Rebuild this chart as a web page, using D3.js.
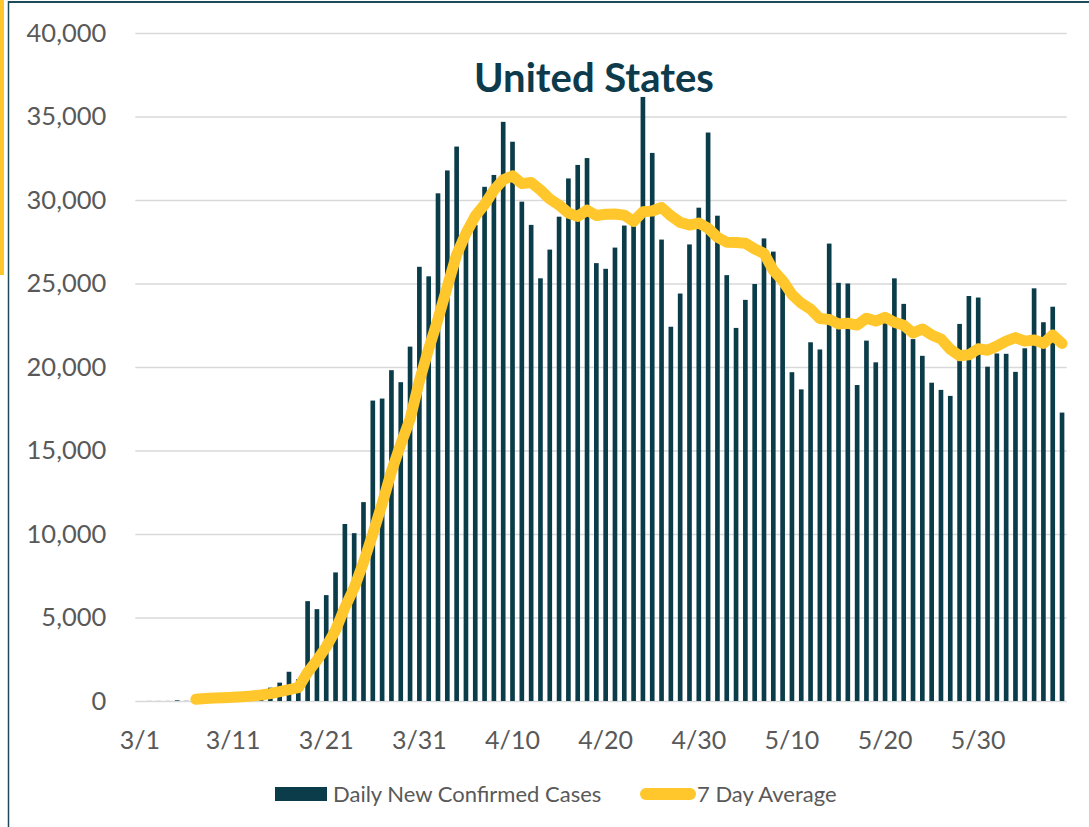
<!DOCTYPE html>
<html>
<head>
<meta charset="utf-8">
<script src="https://cdn.jsdelivr.net/npm/d3@7"></script>
<style>
  html, body { margin: 0; padding: 0; background: #fff; }
  svg { display: block; font-family: Lato, "Open Sans", sans-serif; }
</style>
</head>
<body>
<div id="chart"></div>
<script>
// Dates, one per bar (3/1 .. 6/8)
const dates = [
  "3/1","3/2","3/3","3/4","3/5","3/6","3/7","3/8","3/9","3/10",
  "3/11","3/12","3/13","3/14","3/15","3/16","3/17","3/18","3/19","3/20",
  "3/21","3/22","3/23","3/24","3/25","3/26","3/27","3/28","3/29","3/30",
  "3/31","4/1","4/2","4/3","4/4","4/5","4/6","4/7","4/8","4/9",
  "4/10","4/11","4/12","4/13","4/14","4/15","4/16","4/17","4/18","4/19",
  "4/20","4/21","4/22","4/23","4/24","4/25","4/26","4/27","4/28","4/29",
  "4/30","5/1","5/2","5/3","5/4","5/5","5/6","5/7","5/8","5/9",
  "5/10","5/11","5/12","5/13","5/14","5/15","5/16","5/17","5/18","5/19",
  "5/20","5/21","5/22","5/23","5/24","5/25","5/26","5/27","5/28","5/29",
  "5/30","5/31","6/1","6/2","6/3","6/4","6/5","6/6","6/7","6/8"
];

// Daily new confirmed cases
const dailyCases = [
  0, 5, 5, 5, 40, 10, 100, 120, 180, 250,
  300, 400, 450, 600, 800, 1100, 1750, 1300, 5980, 5500,
  6340, 7700, 10600, 10050, 11910, 17990, 18110, 19810, 19090, 21220,
  26000, 25430, 30400, 31770, 33200, 28000, 28500, 30790, 31500, 34680,
  33490, 29900, 28510, 25310, 27030, 29000, 31290, 32100, 32510, 26220,
  25880, 27150, 28470, 28700, 36170, 32820, 27630, 22410, 24400, 27340,
  29540, 34040, 29060, 25500, 22340, 24020, 24970, 27700, 26910, 24780,
  19690, 18660, 21480, 21050, 27390, 25040, 25000, 18920, 21580, 20280,
  22650, 25310, 23780, 21670, 20670, 19060, 18630, 18270, 22580, 24250,
  24160, 20020, 20810, 20790, 19710, 21120, 24710, 22680, 23610, 17270
];

// 7 day average (starts on 3/7)
const sevenDayAvg = [
  null, null, null, null, null, null, 100, 150, 180, 200,
  230, 260, 300, 360, 440, 560, 680, 800, 1710, 2430,
  3250, 4240, 5600, 6780, 8300, 10010, 11810, 13740, 15370, 16880,
  19160, 21090, 22870, 24820, 26730, 28000, 29040, 29730, 30590, 31210,
  31450, 30980, 31050, 30600, 30060, 29700, 29220, 29020, 29390, 29070,
  29150, 29160, 29090, 28720, 29300, 29340, 29550, 29050, 28660, 28500,
  28620, 28310, 27770, 27470, 27460, 27410, 27070, 26800, 25790, 25170,
  24340, 23820, 23460, 22900, 22850, 22580, 22620, 22510, 22920, 22750,
  22980, 22680, 22500, 22030, 22280, 21920, 21680, 21060, 20670, 20730,
  21090, 21000, 21250, 21550, 21760, 21550, 21620, 21410, 21920, 21410
];

const xTickLabels = ["3/1","3/11","3/21","3/31","4/10","4/20","4/30","5/10","5/20","5/30"];
const yTicks = [0, 5000, 10000, 15000, 20000, 25000, 30000, 35000, 40000];

const width = 1089;
const height = 827;
const plot = { left: 135.3, right: 1066.7, top: 33, bottom: 701 };

const barColor = "#0b3c4a";
const lineColor = "#ffc72c";
const textColor = "#595959";

const svg = d3.select("#chart").append("svg")
  .attr("width", width)
  .attr("height", height);

svg.append("rect").attr("width", width).attr("height", height).attr("fill", "#fff");

// Frame: yellow strip and teal border
svg.append("rect").attr("x", 0).attr("y", 0).attr("width", 4).attr("height", 275).attr("fill", lineColor);
svg.append("line").attr("x1", 8.5).attr("x2", 8.5).attr("y1", 1).attr("y2", height)
  .attr("stroke", "#1d4b59").attr("stroke-width", 1.5);
svg.append("line").attr("x1", 8).attr("x2", width).attr("y1", 2).attr("y2", 2)
  .attr("stroke", "#1d4b59").attr("stroke-width", 2);

const x = d3.scaleBand()
  .domain(dates)
  .range([plot.left, plot.right])
  .paddingInner(0.5)
  .paddingOuter(0.25);

const y = d3.scaleLinear()
  .domain([0, 40000])
  .range([plot.bottom, plot.top]);

// Gridlines + y labels
const yAxis = d3.axisLeft(y)
  .tickValues(yTicks)
  .tickSize(-(plot.right - plot.left))
  .tickPadding(29)
  .tickFormat(d3.format(","));

const yg = svg.append("g")
  .attr("transform", `translate(${plot.left},0)`)
  .call(yAxis);
yg.select(".domain").remove();
yg.selectAll(".tick line").attr("stroke", "#d9d9d9").attr("stroke-width", 1.5);
yg.selectAll(".tick text")
  .attr("fill", textColor)
  .style("font-size", "25.5px")
  .style("font-family", "Lato, sans-serif");

// Bars
svg.append("g").selectAll("rect")
  .data(dates)
  .enter().append("rect")
  .attr("x", d => x(d))
  .attr("width", x.bandwidth())
  .attr("y", (d, i) => y(dailyCases[i]))
  .attr("height", (d, i) => y(0) - y(dailyCases[i]))
  .attr("fill", barColor);

// X labels
const xAxis = d3.axisBottom(x)
  .tickValues(xTickLabels)
  .tickSize(0)
  .tickPadding(30);

const xg = svg.append("g")
  .attr("transform", `translate(0,${plot.bottom})`)
  .call(xAxis);
xg.select(".domain").remove();
xg.selectAll(".tick text")
  .attr("fill", textColor)
  .style("font-size", "25px")
  .style("font-family", "Lato, sans-serif");

// 7 day average line
const line = d3.line()
  .defined(d => d != null)
  .x((d, i) => x(dates[i]) + x.bandwidth() / 2)
  .y(d => y(d));

svg.append("path")
  .datum(sevenDayAvg)
  .attr("d", line)
  .attr("fill", "none")
  .attr("stroke", lineColor)
  .attr("stroke-width", 11)
  .attr("stroke-linejoin", "round")
  .attr("stroke-linecap", "round");

// Title
svg.append("text")
  .attr("x", 594)
  .attr("y", 92)
  .attr("text-anchor", "middle")
  .attr("fill", "#0d3b4b")
  .style("font-size", "40px")
  .style("font-weight", "bold")
  .text("United States");

// Legend
const legend = svg.append("g").attr("transform", "translate(0,794)");
legend.append("rect")
  .attr("x", 275).attr("y", -7).attr("width", 52).attr("height", 14)
  .attr("fill", barColor);
legend.append("text")
  .attr("x", 333).attr("y", 7.5)
  .attr("fill", textColor)
  .style("font-size", "22px")
  .text("Daily New Confirmed Cases");
legend.append("line")
  .attr("x1", 646).attr("x2", 690).attr("y1", 0).attr("y2", 0)
  .attr("stroke", lineColor).attr("stroke-width", 12).attr("stroke-linecap", "round");
legend.append("text")
  .attr("x", 697).attr("y", 7.5)
  .attr("fill", textColor)
  .style("font-size", "22px")
  .text("7 Day Average");
</script>
</body>
</html>
